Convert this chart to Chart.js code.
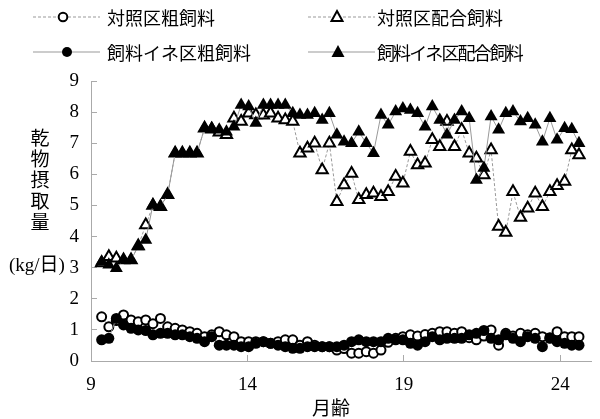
<!DOCTYPE html>
<html><head><meta charset="utf-8">
<script src="https://cdn.jsdelivr.net/npm/chart.js@4/dist/chart.umd.min.js"></script>
<style>
html,body{margin:0;padding:0;background:#fff;}
#wrap{position:relative;width:600px;height:419px;overflow:hidden;font-family:"Liberation Serif","Noto Sans CJK JP",serif;color:#000;}
#c{position:absolute;left:0;top:0;}
.lg{position:absolute;font-family:"Noto Sans CJK JP",sans-serif;font-size:18px;line-height:20px;white-space:nowrap;}
#ytitle{position:absolute;left:29px;top:126px;width:22px;font-family:"Noto Sans CJK JP",sans-serif;font-size:19px;line-height:21px;text-align:center;}
#yunit{position:absolute;left:9px;top:254px;font-size:19px;line-height:22px;white-space:nowrap;}
#xtitle{position:absolute;left:312px;top:396px;font-family:"Noto Sans CJK JP",sans-serif;font-size:19px;line-height:22px;}
svg{position:absolute;left:0;top:0;}
</style></head>
<body><div id="wrap">
<canvas id="c" width="600" height="419"></canvas>
<svg width="600" height="70">
 <line x1="33" y1="17" x2="100" y2="17" stroke="#999" stroke-width="1" stroke-dasharray="3,2"/>
 <circle cx="63" cy="17" r="4.3" fill="#fff" stroke="#000" stroke-width="2"/>
 <line x1="308" y1="17" x2="375" y2="17" stroke="#999" stroke-width="1" stroke-dasharray="3,2"/>
 <polygon points="337,11 342.5,21 331.5,21" fill="#fff" stroke="#000" stroke-width="2"/>
 <line x1="33" y1="52" x2="100" y2="52" stroke="#999" stroke-width="1"/>
 <circle cx="67" cy="52" r="5" fill="#000"/>
 <line x1="308" y1="52" x2="375" y2="52" stroke="#999" stroke-width="1"/>
 <polygon points="338,45 344.5,57 331.5,57" fill="#000"/>
</svg>
<div class="lg" style="left:107px;top:7px;">対照区粗飼料</div>
<div class="lg" style="left:377px;top:7px;">対照区配合飼料</div>
<div class="lg" style="left:107px;top:42px;">飼料イネ区粗飼料</div>
<div class="lg" style="left:377px;top:42px;letter-spacing:-1.9px;">飼料イネ区配合飼料</div>
<div id="ytitle">乾<br>物<br>摂<br>取<br>量</div>
<div id="yunit">(kg/日)</div>
<div id="xtitle">月齢</div>
</div>
<script>
const ages = [9.34,9.57,9.81,10.04,10.28,10.51,10.75,10.98,11.22,11.45,11.69,11.92,12.16,12.39,12.63,12.86,13.10,13.33,13.57,13.80,14.04,14.27,14.51,14.74,14.98,15.21,15.45,15.68,15.92,16.15,16.39,16.62,16.86,17.09,17.33,17.56,17.80,18.03,18.27,18.50,18.74,18.97,19.21,19.44,19.68,19.91,20.15,20.38,20.62,20.85,21.09,21.32,21.56,21.79,22.03,22.26,22.49,22.73,22.96,23.20,23.43,23.67,23.90,24.14,24.37,24.60];
// 対照区粗飼料
const ctrlRough = [1.42,1.10,1.30,1.48,1.32,1.26,1.32,1.20,1.37,1.10,1.05,1.00,0.94,0.89,0.78,0.84,0.94,0.84,0.78,0.62,0.62,0.62,0.62,0.57,0.62,0.68,0.68,0.51,0.62,0.51,0.46,0.46,0.35,0.40,0.25,0.25,0.30,0.25,0.35,0.60,0.73,0.78,0.84,0.80,0.85,0.89,0.94,0.94,0.89,0.94,0.75,0.68,0.80,1.00,0.51,0.89,0.80,0.89,0.84,0.89,0.78,0.75,0.94,0.78,0.78,0.78];
// 対照区配合飼料
const ctrlConc = [3.15,3.35,3.30,3.25,3.25,3.70,4.37,5.00,4.96,5.34,6.68,6.68,6.68,6.68,7.48,7.45,7.35,7.27,7.80,7.70,7.96,7.91,7.90,7.96,7.80,7.75,7.70,6.68,6.84,7.00,6.14,7.00,5.12,5.66,6.03,5.18,5.34,5.39,5.28,5.44,5.93,5.71,6.73,6.30,6.36,7.11,6.89,7.70,6.89,7.43,6.68,6.52,5.98,6.78,4.32,4.13,5.44,4.61,4.91,5.39,4.96,5.44,5.63,5.77,6.78,6.62];
// 飼料イネ区粗飼料
const riceRough = [0.68,0.73,1.37,1.16,1.05,1.00,0.98,0.84,0.89,0.89,0.84,0.84,0.78,0.73,0.62,0.78,0.51,0.51,0.51,0.46,0.46,0.57,0.62,0.57,0.51,0.46,0.41,0.41,0.46,0.46,0.46,0.46,0.46,0.51,0.62,0.68,0.62,0.62,0.62,0.73,0.68,0.68,0.57,0.51,0.62,0.78,0.68,0.73,0.73,0.73,0.84,0.89,0.98,0.73,0.68,0.84,0.73,0.62,0.78,0.73,0.46,0.73,0.62,0.57,0.51,0.51];
// 飼料イネ区配合飼料
const riceConc = [3.19,3.09,2.98,3.25,3.25,3.68,3.89,5.02,4.96,5.34,6.68,6.68,6.68,6.68,7.48,7.48,7.43,7.37,7.53,8.23,8.18,7.65,8.23,8.23,8.23,8.23,7.96,7.91,7.91,7.96,7.75,7.96,7.27,7.05,7.00,7.37,7.00,6.68,7.91,7.59,8.02,8.12,8.07,7.96,7.53,8.18,7.75,7.27,7.75,8.02,7.80,5.82,6.20,7.86,7.43,7.96,8.02,7.70,7.80,7.59,7.05,7.80,7.11,7.48,7.45,7.00];
const seriesNames = ['対照区粗飼料','対照区配合飼料','飼料イネ区粗飼料','飼料イネ区配合飼料'];
const xTicks = [9,14,19,24];
const yTicks = [0,1,2,3,4,5,6,7,8,9];

const pts = arr => ages.map((a,i)=>({x:a,y:arr[i]}));
const tickFont = {family:'"Liberation Serif", serif', size:19};

new Chart(document.getElementById('c'), {
  type:'line',
  data:{datasets:[
    {label:seriesNames[3],data:pts(riceConc),borderColor:'#999',borderWidth:1,pointStyle:'triangle',pointRadius:7.5,pointBackgroundColor:'#000',pointBorderColor:'#000',pointBorderWidth:0,order:1},
    {label:seriesNames[2],data:pts(riceRough),borderColor:'#999',borderWidth:1,pointStyle:'circle',pointRadius:5.5,pointBackgroundColor:'#000',pointBorderColor:'#000',pointBorderWidth:0,order:2},
    {label:seriesNames[1],data:pts(ctrlConc),borderColor:'#999',borderWidth:1,borderDash:[3,2],pointStyle:'triangle',pointRadius:6.5,pointBackgroundColor:'#fff',pointBorderColor:'#000',pointBorderWidth:2,order:3},
    {label:seriesNames[0],data:pts(ctrlRough),borderColor:'#999',borderWidth:1,borderDash:[3,2],pointStyle:'circle',pointRadius:4.5,pointBackgroundColor:'#fff',pointBorderColor:'#000',pointBorderWidth:2,order:4}
  ]},
  options:{
    responsive:false,animation:false,
    layout:{padding:{left:0,top:81,right:6,bottom:0}},
    plugins:{legend:{display:false},tooltip:{enabled:false}},
    elements:{line:{tension:0}},
    scales:{
      x:{type:'linear',min:9,max:25,
        afterBuildTicks:s=>{s.ticks=xTicks.map(v=>({value:v}));},
        afterFit:s=>{s.height=58;},
        border:{display:true,color:'#aaa',width:1},
        grid:{display:true,drawOnChartArea:false,drawTicks:true,tickLength:-6,color:'#aaa'},
        ticks:{font:tickFont,color:'#000',padding:19,maxRotation:0,autoSkip:false}},
      y:{type:'linear',min:0,max:9,
        afterBuildTicks:s=>{s.ticks=yTicks.map(v=>({value:v}));},
        afterFit:s=>{s.width=91;},
        border:{display:true,color:'#aaa',width:1},
        grid:{display:true,drawOnChartArea:false,drawTicks:true,tickLength:-6,color:'#aaa'},
        ticks:{font:tickFont,color:'#000',padding:18,autoSkip:false}}
    }
  }
});
</script>
</body></html>
